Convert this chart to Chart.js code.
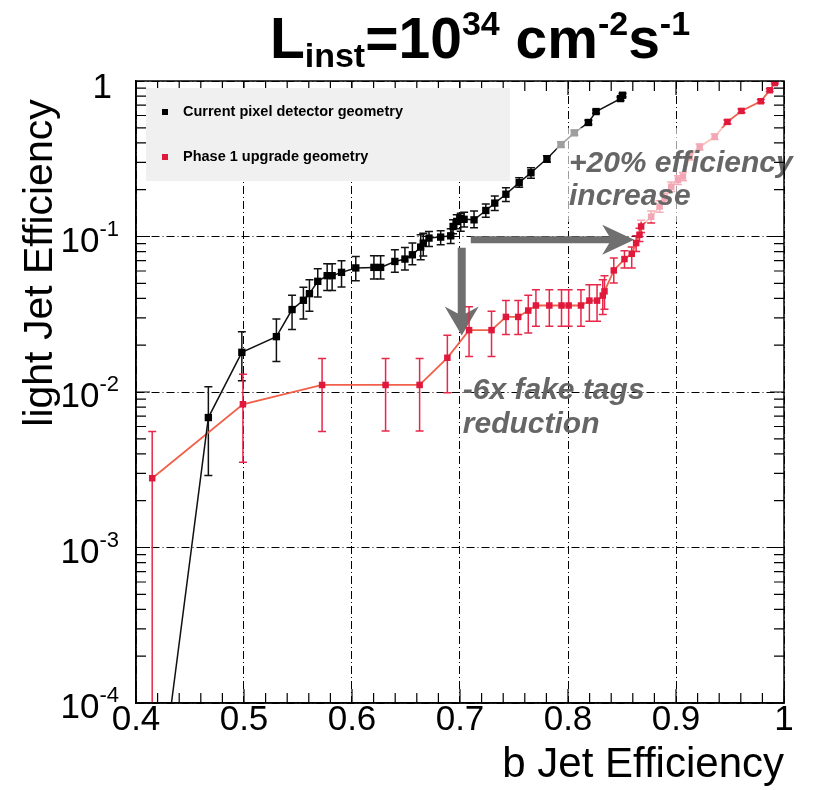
<!DOCTYPE html>
<html>
<head>
<meta charset="utf-8">
<script src="https://cdn.jsdelivr.net/npm/chart.js@4.4.1/dist/chart.umd.min.js"></script>
<style>
  html, body { margin: 0; padding: 0; background: #fff; }
  #wrap { width: 825px; height: 790px; position: relative; }
</style>
</head>
<body>
<div id="wrap"><canvas id="effChart"></canvas></div>
<script>
// light jet mistag rate vs b-tag efficiency, current detector vs phase 1
const currentX  = [0.415, 0.467, 0.498, 0.530, 0.5445, 0.555, 0.5606, 0.5683, 0.577, 0.5816, 0.5903, 0.6035, 0.6203, 0.6265, 0.6397, 0.649, 0.6559, 0.6636, 0.666, 0.6713, 0.6821, 0.6914, 0.6936, 0.697, 0.7007, 0.7038, 0.713, 0.7239, 0.7322, 0.7425, 0.7548, 0.7657, 0.7805, 0.7935, 0.8059, 0.8189, 0.826, 0.8486, 0.8505];
const currentY  = [1.1e-5, 0.00685, 0.0180, 0.0227, 0.0339, 0.0389, 0.0429, 0.0515, 0.056, 0.056, 0.0588, 0.0628, 0.0633, 0.0633, 0.0691, 0.0716, 0.0763, 0.0855, 0.0907, 0.0977, 0.0991, 0.101, 0.116, 0.125, 0.131, 0.129, 0.128, 0.147, 0.164, 0.187, 0.222, 0.257, 0.316, 0.39, 0.464, 0.541, 0.636, 0.771, 0.81];
const currentLo = [1.1e-5, 0.0029, 0.0118, 0.0157, 0.0252, 0.0295, 0.0331, 0.0409, 0.0449, 0.0449, 0.0474, 0.052, 0.0533, 0.0533, 0.0588, 0.061, 0.0659, 0.0709, 0.075, 0.0863, 0.0885, 0.09, 0.104, 0.112, 0.108, 0.115, 0.114, 0.133, 0.147, 0.168, 0.207, 0.237, 0.30, 0.375, 0.45, 0.525, 0.62, 0.75, 0.79];
const currentHi = [1.1e-5, 0.0108, 0.0244, 0.0295, 0.0419, 0.0471, 0.0528, 0.0621, 0.0668, 0.0668, 0.0699, 0.0745, 0.0752, 0.0752, 0.0822, 0.085, 0.0907, 0.1025, 0.105, 0.1076, 0.109, 0.112, 0.128, 0.138, 0.141, 0.143, 0.146, 0.162, 0.182, 0.206, 0.239, 0.277, 0.33, 0.405, 0.48, 0.56, 0.65, 0.79, 0.83];

const phase1X  = [0.415, 0.499, 0.5723, 0.6311, 0.6626, 0.6883, 0.7084, 0.7292, 0.7425, 0.7539, 0.7632, 0.7703, 0.7827, 0.794, 0.8006, 0.812, 0.8198, 0.8269, 0.8322, 0.8338, 0.8424, 0.8523, 0.859, 0.8631, 0.8662, 0.8677, 0.877, 0.8848, 0.8895, 0.8956, 0.9018, 0.9064, 0.9126, 0.9219, 0.9358, 0.9476, 0.9606, 0.9785, 0.9868, 0.9915];
const phase1Y  = [0.00279, 0.00834, 0.0111, 0.0111, 0.0111, 0.0166, 0.0250, 0.0250, 0.0304, 0.0304, 0.0334, 0.036, 0.036, 0.036, 0.036, 0.036, 0.0387, 0.0387, 0.0417, 0.0444, 0.0605, 0.0716, 0.0774, 0.0907, 0.1025, 0.116, 0.134, 0.156, 0.176, 0.209, 0.231, 0.243, 0.326, 0.377, 0.438, 0.546, 0.642, 0.741, 0.872, 0.97];
const phase1Lo = [1e-5, 0.00353, 0.00558, 0.00562, 0.00562, 0.0099, 0.0169, 0.0169, 0.0234, 0.0234, 0.024, 0.0265, 0.0265, 0.0265, 0.0265, 0.0265, 0.0285, 0.0285, 0.0315, 0.034, 0.0503, 0.0627, 0.0627, 0.08, 0.093, 0.106, 0.122, 0.143, 0.162, 0.195, 0.216, 0.228, 0.31, 0.36, 0.42, 0.53, 0.625, 0.725, 0.855, 0.955];
const phase1Hi = [0.00557, 0.0130, 0.0164, 0.0164, 0.0164, 0.0232, 0.0353, 0.0331, 0.0387, 0.0387, 0.0419, 0.0455, 0.0455, 0.0455, 0.0455, 0.0455, 0.049, 0.049, 0.0528, 0.056, 0.0727, 0.081, 0.0855, 0.101, 0.113, 0.127, 0.146, 0.17, 0.19, 0.224, 0.246, 0.258, 0.342, 0.394, 0.456, 0.562, 0.66, 0.76, 0.89, 0.985];

const xTickValues = [0.4, 0.5, 0.6, 0.7, 0.8, 0.9, 1.0];
const xTickLabels = ['0.4', '0.5', '0.6', '0.7', '0.8', '0.9', '1'];
const yTickPowers = [0, -1, -2, -3, -4];

const seriesNames = ['Current pixel detector geometry', 'Phase 1 upgrade geometry'];

const FONT = '"Liberation Sans", Arial, Helvetica, sans-serif';

function points(xs, ys, lo, hi) {
    return xs.map((x, i) => ({ x: x, y: ys[i], lo: lo[i], hi: hi[i] }));
}

function clipArea(ctx, a) {
    ctx.beginPath();
    ctx.rect(a.left, a.top, a.right - a.left, a.bottom - a.top);
    ctx.clip();
}

// draws "base^sup" style runs on one baseline
function drawRuns(ctx, runs, x, baseline, align) {
    let total = 0;
    runs.forEach(r => { ctx.font = r.font; total += ctx.measureText(r.t).width; });
    let cx = align === 'center' ? x - total / 2 : (align === 'right' ? x - total : x);
    ctx.textAlign = 'left';
    ctx.textBaseline = 'alphabetic';
    runs.forEach(r => {
        ctx.font = r.font;
        ctx.fillText(r.t, cx, baseline + (r.dy || 0));
        cx += ctx.measureText(r.t).width;
    });
}

const decorations = {
    id: 'decorations',
    beforeDatasetsDraw(chart) {
        const ctx = chart.ctx, a = chart.chartArea;
        const xs = chart.scales.x, ys = chart.scales.y;
        ctx.save();
        clipArea(ctx, a);

        // gray arrows
        ctx.fillStyle = '#6f6f6f';
        const hx0 = xs.getPixelForValue(0.71), hx1 = xs.getPixelForValue(0.8613), hy = ys.getPixelForValue(0.0953);
        ctx.beginPath();
        ctx.moveTo(hx0, hy - 3.5);
        ctx.lineTo(hx1 - 25, hy - 3.5);
        ctx.lineTo(hx1 - 32, hy - 15);
        ctx.lineTo(hx1, hy);
        ctx.lineTo(hx1 - 32, hy + 15);
        ctx.lineTo(hx1 - 25, hy + 3.5);
        ctx.lineTo(hx0, hy + 3.5);
        ctx.closePath();
        ctx.fill();

        const vx = xs.getPixelForValue(0.7016), vy0 = ys.getPixelForValue(0.0846), vy1 = ys.getPixelForValue(0.0231);
        ctx.beginPath();
        ctx.moveTo(vx - 4, vy0);
        ctx.lineTo(vx - 4, vy1 - 22);
        ctx.lineTo(vx - 17, vy1 - 29);
        ctx.lineTo(vx, vy1);
        ctx.lineTo(vx + 17, vy1 - 29);
        ctx.lineTo(vx + 4, vy1 - 22);
        ctx.lineTo(vx + 4, vy0);
        ctx.closePath();
        ctx.fill();

        // error bars
        chart.data.datasets.forEach(ds => {
            ctx.strokeStyle = ds.errorColor;
            ctx.lineWidth = 1.5;
            ds.data.forEach(p => {
                if (p.hi <= p.lo) return;
                const px = xs.getPixelForValue(p.x);
                const yl = ys.getPixelForValue(p.lo), yh = ys.getPixelForValue(p.hi);
                ctx.beginPath();
                ctx.moveTo(px, yl); ctx.lineTo(px, yh);
                ctx.moveTo(px - 4, yl); ctx.lineTo(px + 4, yl);
                ctx.moveTo(px - 4, yh); ctx.lineTo(px + 4, yh);
                ctx.stroke();
            });
        });
        ctx.restore();
    },
    afterDatasetsDraw(chart) {
        const ctx = chart.ctx, a = chart.chartArea;
        const xs = chart.scales.x, ys = chart.scales.y;
        ctx.save();
        clipArea(ctx, a);
        // translucent pad behind the efficiency note
        const bx0 = xs.getPixelForValue(0.7895), bx1 = xs.getPixelForValue(1.0);
        const by0 = ys.getPixelForValue(0.5), by1 = ys.getPixelForValue(0.124);
        ctx.fillStyle = 'rgba(255,255,255,0.62)';
        ctx.fillRect(bx0, by0, bx1 - bx0, by1 - by0);
        ctx.restore();

        ctx.save();
        ctx.fillStyle = '#666666';
        ctx.font = 'italic bold 30px ' + FONT;
        ctx.textAlign = 'left';
        ctx.textBaseline = 'alphabetic';
        const tx = xs.getPixelForValue(0.8009);
        ctx.fillText('+20% efficiency', tx, ys.getPixelForValue(0.26));
        ctx.fillText('increase', tx, ys.getPixelForValue(0.16));
        const rx = xs.getPixelForValue(0.7026);
        ctx.fillText('-6x fake tags', rx, ys.getPixelForValue(0.00898));
        ctx.fillText('reduction', rx, ys.getPixelForValue(0.00543));
        ctx.restore();
    },
    afterDraw(chart) {
        const ctx = chart.ctx, a = chart.chartArea;
        const xs = chart.scales.x, ys = chart.scales.y;
        ctx.save();

        // frame with inward ticks on all four sides
        ctx.strokeStyle = '#000';
        ctx.lineWidth = 1.5;
        ctx.strokeRect(a.left, a.top, a.right - a.left, a.bottom - a.top);
        ctx.lineWidth = 1.2;
        ctx.beginPath();
        for (let i = 0; i <= 30; i++) {
            const px = xs.getPixelForValue(0.4 + i * 0.02);
            const len = i % 5 === 0 ? 14 : 10;
            ctx.moveTo(px, a.bottom); ctx.lineTo(px, a.bottom - len);
            ctx.moveTo(px, a.top); ctx.lineTo(px, a.top + len);
        }
        for (let e = -4; e < 0; e++) {
            for (let k = 1; k <= 9; k++) {
                const py = ys.getPixelForValue(k * Math.pow(10, e));
                const len = k === 1 ? 14 : 10;
                ctx.moveTo(a.left, py); ctx.lineTo(a.left + len, py);
                ctx.moveTo(a.right, py); ctx.lineTo(a.right - len, py);
            }
        }
        ctx.stroke();

        // legend pad
        ctx.fillStyle = '#f0f0f0';
        ctx.fillRect(146, 88, 364, 93);
        const ds = chart.data.datasets;
        [112, 157].forEach((ly, i) => {
            ctx.fillStyle = ds[i].pointBackgroundColor;
            ctx.fillRect(162, ly - 3, 6, 6);
            ctx.fillStyle = '#000';
            ctx.font = 'bold 14.5px ' + FONT;
            ctx.textAlign = 'left';
            ctx.textBaseline = 'middle';
            ctx.fillText(seriesNames[i], 183, ly);
        });

        // y tick labels as powers of ten
        ctx.fillStyle = '#000';
        yTickPowers.forEach(p => {
            const py = ys.getPixelForValue(Math.pow(10, p));
            if (p === 0) {
                ctx.font = '35px ' + FONT;
                ctx.textAlign = 'right';
                ctx.textBaseline = 'middle';
                ctx.fillText('1', 112, py + 7);
            } else {
                drawRuns(ctx, [
                    { t: '10', font: '35px ' + FONT },
                    { t: String(p), font: '22px ' + FONT, dy: -16 }
                ], 119, py + 15, 'right');
            }
        });

        // y axis title
        ctx.save();
        ctx.translate(52, 263);
        ctx.rotate(-Math.PI / 2);
        ctx.font = '41px ' + FONT;
        ctx.textAlign = 'center';
        ctx.textBaseline = 'alphabetic';
        ctx.fillText('light Jet Efficiency', 0, 0);
        ctx.restore();

        // main title
        const big = 'bold 57px ' + FONT, small = 'bold 34px ' + FONT;
        drawRuns(ctx, [
            { t: 'L', font: big },
            { t: 'inst', font: small, dy: 9 },
            { t: '=10', font: big },
            { t: '34', font: small, dy: -23 },
            { t: ' cm', font: big },
            { t: '-2', font: small, dy: -23 },
            { t: 's', font: big },
            { t: '-1', font: small, dy: -23 }
        ], 480, 58, 'center');

        ctx.restore();
    }
};

const ctx = document.getElementById('effChart').getContext('2d');
const effChart = new Chart(ctx, {
    type: 'line',
    data: {
        datasets: [{
            label: seriesNames[0],
            data: points(currentX, currentY, currentLo, currentHi),
            borderColor: '#111111',
            borderWidth: 1.5,
            pointStyle: 'rect',
            pointRadius: 5.2,
            pointBackgroundColor: '#000000',
            pointBorderColor: '#000000',
            pointBorderWidth: 0,
            errorColor: '#111111',
            tension: 0
        }, {
            label: seriesNames[1],
            data: points(phase1X, phase1Y, phase1Lo, phase1Hi),
            borderColor: '#f0604a',
            borderWidth: 1.8,
            pointStyle: 'rect',
            pointRadius: 4.6,
            pointBackgroundColor: '#e0183c',
            pointBorderColor: '#e0183c',
            pointBorderWidth: 0,
            errorColor: '#e8284a',
            tension: 0
        }]
    },
    options: {
        responsive: true,
        maintainAspectRatio: false,
        animation: false,
        events: [],
        layout: { padding: { left: 136, top: 81, right: 41, bottom: 4 } },
        scales: {
            x: {
                type: 'linear',
                min: 0.4,
                max: 1.0,
                afterBuildTicks: scale => { scale.ticks = xTickValues.map(v => ({ value: v })); },
                ticks: {
                    autoSkip: false,
                    maxRotation: 0,
                    padding: 0,
                    color: '#000',
                    font: { family: FONT, size: 35, lineHeight: 1.0 },
                    callback: (v, i) => xTickLabels[i]
                },
                grid: { color: '#000', lineWidth: 1, drawTicks: false },
                border: { display: true, color: '#000', width: 1.5, dash: [8, 3, 1, 3] },
                title: {
                    display: true,
                    text: 'b Jet Efficiency',
                    align: 'end',
                    color: '#000',
                    font: { family: FONT, size: 42, lineHeight: 1.0 },
                    padding: { top: 6, bottom: 0 }
                }
            },
            y: {
                type: 'logarithmic',
                min: 1e-4,
                max: 1,
                afterBuildTicks: scale => { scale.ticks = yTickPowers.map(p => ({ value: Math.pow(10, p) })); },
                ticks: { display: false, autoSkip: false },
                grid: { color: '#000', lineWidth: 1, drawTicks: false },
                border: { display: true, color: '#000', width: 1.5, dash: [8, 3, 1, 3] }
            }
        },
        plugins: {
            legend: { display: false },
            tooltip: { enabled: false }
        }
    },
    plugins: [decorations]
});
</script>
</body>
</html>
